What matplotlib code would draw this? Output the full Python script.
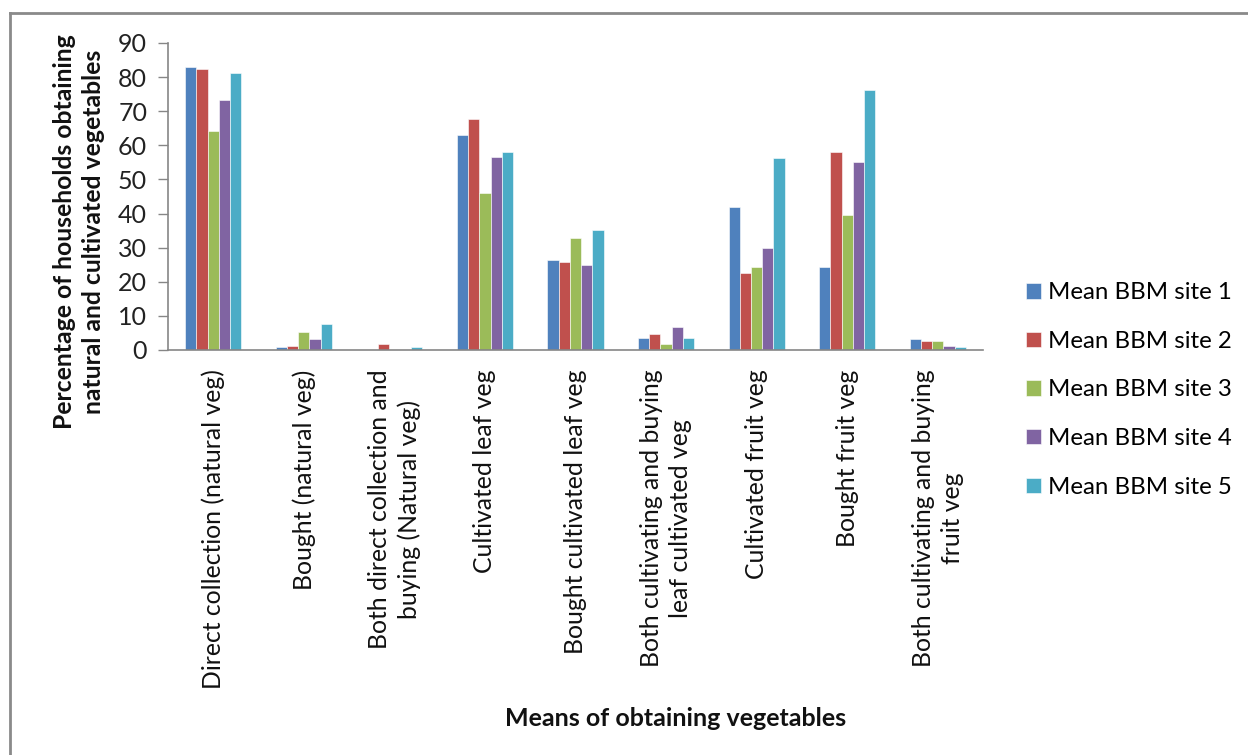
import matplotlib
matplotlib.use("Agg")
import matplotlib.pyplot as plt
from matplotlib.lines import Line2D
import numpy as np

plt.rcParams['font.family'] = ['Lato', 'DejaVu Sans']

categories = [
    "Direct collection (natural veg)",
    "Bought (natural veg)",
    "Both direct collection and\nbuying (Natural veg)",
    "Cultivated leaf veg",
    "Bought cultivated leaf veg",
    "Both cultivating and buying\nleaf cultivated veg",
    "Cultivated fruit veg",
    "Bought fruit veg",
    "Both cultivating and buying\nfruit veg",
]
series_names = ["Mean BBM site 1", "Mean BBM site 2", "Mean BBM site 3",
                "Mean BBM site 4", "Mean BBM site 5"]
site1 = [83.0, 0.8, 0.0, 63.0, 26.5, 3.4, 41.9, 24.3, 3.1]
site2 = [82.3, 1.3, 1.7, 67.6, 25.7, 4.6, 22.7, 58.1, 2.7]
site3 = [64.2, 5.4, 0.0, 46.1, 32.9, 1.7, 24.3, 39.7, 2.7]
site4 = [73.2, 3.1, 0.0, 56.7, 25.0, 6.6, 29.8, 55.1, 1.3]
site5 = [81.2, 7.6, 0.8, 58.1, 35.1, 3.4, 56.3, 76.2, 0.8]
yticks = [0, 10, 20, 30, 40, 50, 60, 70, 80, 90]

colors = ["#4F81BD", "#C0504D", "#9BBB59", "#8064A2", "#4BACC6"]
all_series = [site1, site2, site3, site4, site5]

W, H = 1248, 755
fig = plt.figure(figsize=(W / 100, H / 100), dpi=100)
fig.patch.set_facecolor("white")

ax = fig.add_axes([168 / W, 1 - 350 / H, (983 - 168) / W, (350 - 43) / H])

x = np.arange(len(categories))
bw = 0.124
for i, (vals, col, name) in enumerate(zip(all_series, colors, series_names)):
    offs = (i - 2) * bw
    ax.bar(x + offs, vals, width=bw, color=col, edgecolor="white",
           linewidth=0.4, label=name, zorder=2)

ax.set_xlim(-0.5, len(categories) - 0.5)
ax.set_ylim(0, 90)
ax.set_yticks(yticks)
ax.set_yticklabels([str(v) for v in yticks], fontsize=18, color="#222222")
ax.tick_params(axis="y", length=7, width=1, color="#868686", pad=8)

ax.set_xticks(x)
ax.set_xticklabels(categories, rotation=90, fontsize=17.8, ha="center",
                   va="top", multialignment="center", color="#111111",
                   linespacing=1.3)
ax.tick_params(axis="x", length=0, pad=14)

for side in ["top", "right"]:
    ax.spines[side].set_visible(False)
for side in ["left", "bottom"]:
    ax.spines[side].set_color("#868686")
    ax.spines[side].set_linewidth(1.2)

fig.text(79 / W, 1 - 232 / H,
         "Percentage of households obtaining\nnatural and cultivated vegetables",
         rotation=90, ha="center", va="center", multialignment="center",
         fontsize=17.8, fontweight="bold", linespacing=1.3, color="#111111")

fig.text(676 / W, 1 - 718 / H, "Means of obtaining vegetables",
         ha="center", va="center", fontsize=18, fontweight="bold",
         color="#111111")

ax.legend(loc="center left", bbox_to_anchor=(1026 / W, 1 - 390 / H),
          bbox_transform=fig.transFigure, frameon=False, fontsize=17.3,
          handlelength=0.62, handleheight=0.62, handletextpad=0.3,
          labelspacing=1.15, borderaxespad=0, borderpad=0)

# chart frame (left and top edges visible)
fig.add_artist(Line2D([9.5 / W, 9.5 / W], [0, 1 - 13 / H],
                      transform=fig.transFigure, color="#8a8a8a", lw=2))
fig.add_artist(Line2D([9.5 / W, 1], [1 - 13 / H, 1 - 13 / H],
                      transform=fig.transFigure, color="#8a8a8a", lw=2))

fig.savefig("out.png", dpi=100, facecolor="white")
